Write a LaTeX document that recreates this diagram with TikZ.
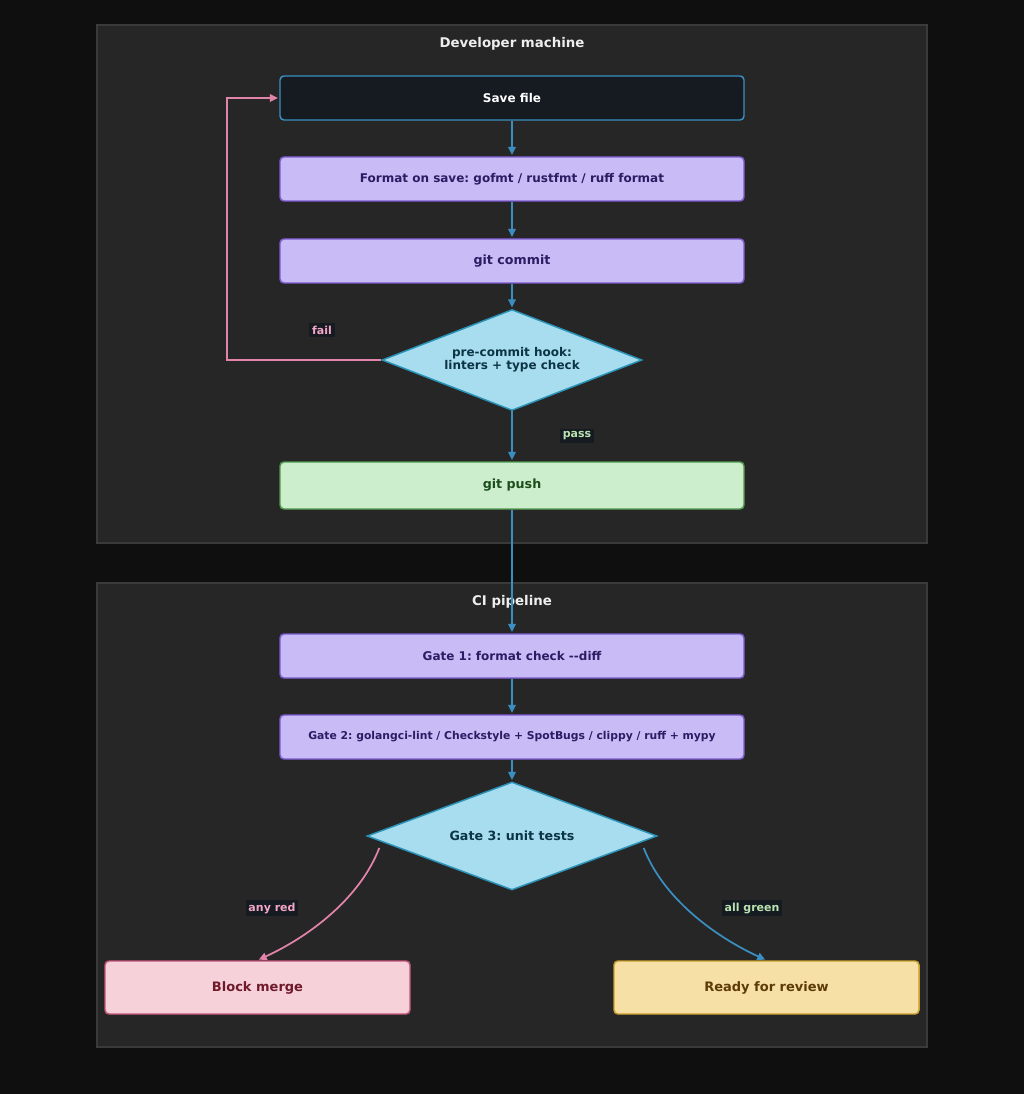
\documentclass[tikz,border=0pt]{standalone}
\usepackage{fontspec}
\setmainfont{DejaVu Sans}
\usetikzlibrary{shapes.geometric,arrows.meta}
\frenchspacing
\definecolor{pagebg}{HTML}{0F0F0F}
\definecolor{clfill}{HTML}{262626}
\definecolor{cldraw}{HTML}{3A3A3A}
\definecolor{titletxt}{HTML}{EEEEEE}
\definecolor{darkfill}{HTML}{161B22}
\definecolor{bluedraw}{HTML}{3A8FC0}
\definecolor{purfill}{HTML}{C8BBF6}
\definecolor{purdraw}{HTML}{7E5BD3}
\definecolor{purtxt}{HTML}{2D1B63}
\definecolor{diafill}{HTML}{A8DCEF}
\definecolor{diadraw}{HTML}{2A93B8}
\definecolor{diatxt}{HTML}{0B3545}
\definecolor{grnfill}{HTML}{CDEECD}
\definecolor{grndraw}{HTML}{4E9A4E}
\definecolor{grntxt}{HTML}{1D4D1D}
\definecolor{pnkfill}{HTML}{F7D1D9}
\definecolor{pnkdraw}{HTML}{C4557B}
\definecolor{pnktxt}{HTML}{6E1A2B}
\definecolor{ylwfill}{HTML}{F6E0A6}
\definecolor{ylwdraw}{HTML}{C8A02D}
\definecolor{ylwtxt}{HTML}{5C3B08}
\definecolor{pinkline}{HTML}{E284AA}
\definecolor{labpink}{HTML}{F4A6C8}
\definecolor{labgreen}{HTML}{B9E3B0}
\begin{document}
\begin{tikzpicture}[x=0.75pt,y=-0.75pt,
  cluster/.style={fill=clfill,draw=cldraw,line width=0.8pt},
  cltitle/.style={text=titletxt,font=\fontsize{10pt}{12pt}\selectfont\bfseries},
  box/.style={rectangle,rounded corners=3pt,line width=1.1pt,minimum width=348pt,minimum height=33pt,inner sep=2pt,font=\fontsize{9pt}{11pt}\selectfont\bfseries},
  darkbox/.style={box,fill=darkfill,draw=bluedraw,text=white},
  purbox/.style={box,fill=purfill,draw=purdraw,text=purtxt},
  grnbox/.style={box,fill=grnfill,draw=grndraw,text=grntxt,minimum height=35.25pt,font=\fontsize{9.5pt}{11pt}\selectfont\bfseries},
  endbox/.style={box,minimum width=228.75pt,minimum height=39.75pt,font=\fontsize{9.75pt}{12pt}\selectfont\bfseries},
  pnkbox/.style={endbox,fill=pnkfill,draw=pnkdraw,text=pnktxt},
  ylwbox/.style={endbox,fill=ylwfill,draw=ylwdraw,text=ylwtxt},
  decision/.style={diamond,fill=diafill,draw=diadraw,text=diatxt,line width=1.1pt,inner sep=0pt,align=center,font=\fontsize{9pt}{10pt}\selectfont\bfseries},
  flow/.style={draw=bluedraw,line width=1.3pt,-{Triangle[length=6pt,width=5.5pt]},shorten >=1pt},
  failflow/.style={draw=pinkline,line width=1.3pt,-{Triangle[length=6pt,width=5.5pt]},shorten >=1pt},
  edgelab/.style={fill=darkfill,inner sep=2.2pt,font=\fontsize{8.25pt}{10pt}\selectfont\bfseries}
]
\fill[pagebg] (0,0) rectangle (1024,1094);
\useasboundingbox (0,0) rectangle (1024,1094);

% clusters
\draw[cluster] (97,25) rectangle (927,543);
\node[cltitle] (t1) at (512,44) {Developer machine};
\draw[cluster] (97,583) rectangle (927,1047);
\node[cltitle] (t2) at (512,602) {CI pipeline};

% nodes
\node[darkbox] (save) at (512,98) {Save file};
\node[purbox] (fmt) at (512,179) {Format on save: gofmt / rustfmt / ruff format};
\node[purbox,font=\fontsize{9.5pt}{11pt}\selectfont\bfseries] (commit) at (512,261) {git commit};
\node[decision,minimum width=195pt,minimum height=75.75pt,aspect=2.57] (hook) at (512,360) {pre-commit hook:\\linters + type check};
\node[grnbox] (push) at (512,485.5) {git push};

\node[purbox] (g1) at (512,656) {Gate 1: format check -\kern0pt-diff};
\node[purbox,font=\fontsize{8.1pt}{9pt}\selectfont\bfseries] (g2) at (512,737) {Gate 2: golangci-lint / Checkstyle + SpotBugs / clippy / ruff + mypy};
\node[decision,minimum width=217.5pt,minimum height=81pt,aspect=2.69,font=\fontsize{9.5pt}{11pt}\selectfont\bfseries] (g3) at (512,836) {Gate 3: unit tests};
\node[pnkbox] (block) at (257.5,987.5) {Block merge};
\node[ylwbox] (ready) at (766.5,987.5) {Ready for review};

% edges
\draw[flow] (save) -- (fmt);
\draw[flow] (fmt) -- (commit);
\draw[flow] (commit) -- (hook);
\draw[flow] (hook) -- (push);
\draw[failflow] (hook.west) -- ++(-154,0) |- (save.west);
\draw[flow] (push) -- (g1);
\draw[flow] (g1) -- (g2);
\draw[flow] (g2) -- (g3);
\draw[failflow] ([shift={(13,12)}]g3.west) .. controls (360,898) and (310,936) .. (block.north);
\draw[flow] ([shift={(-14,12)}]g3.east) .. controls (663,898) and (714,936) .. (ready.north);

% edge labels
\node[edgelab,text=labpink] (lfail) at (322,330) {fail};
\node[edgelab,text=labgreen] (lpass) at (577,436) {pass};
\node[edgelab,text=labpink] (lred) at (272,908) {any red};
\node[edgelab,text=labgreen] (lgreen) at (752,908) {all green};
\end{tikzpicture}
\end{document}
